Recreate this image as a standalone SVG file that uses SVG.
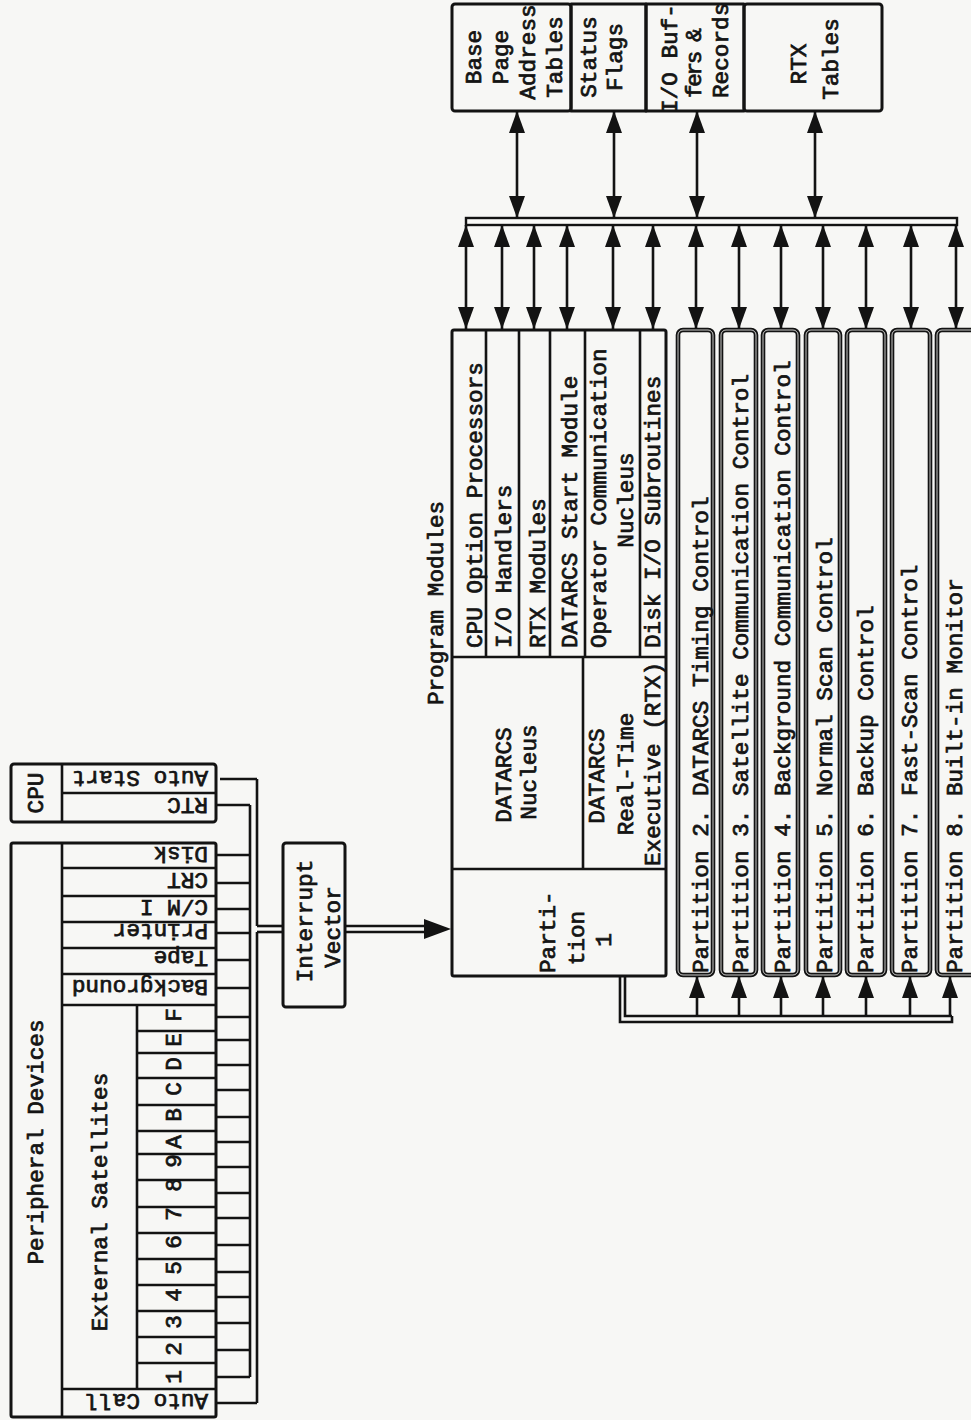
<svg xmlns="http://www.w3.org/2000/svg" width="971" height="1420" viewBox="0 0 971 1420">
<style>
.t{font-family:"Liberation Mono","DejaVu Sans Mono",monospace;font-size:22.7px;fill:#141414;stroke:#141414;stroke-width:0.75}
.m{text-anchor:middle}
.box{fill:none;stroke:#131313;stroke-width:3;stroke-linejoin:round}
.pbox{fill:none;stroke:#131313;stroke-width:4.6}
.pin{fill:none;stroke:#f7f7f5;stroke-width:0.8}
.ln{fill:none;stroke:#131313;stroke-width:2.6}
.arr2{fill:none;stroke:#131313;stroke-width:2.6;marker-start:url(#ah);marker-end:url(#ah)}
.arr1{fill:none;stroke:#131313;stroke-width:2.6;marker-end:url(#ah)}
</style>
<defs>
<marker id="ah" markerUnits="userSpaceOnUse" markerWidth="22" markerHeight="16" refX="22" refY="8" orient="auto-start-reverse" viewBox="0 0 22 16">
<path d="M0,0 L22,8 L0,16 z" fill="#131313"/>
</marker>
</defs>
<rect x="0" y="0" width="971" height="1420" fill="#f7f7f5"/>

<!-- Memory tables (top) -->
<g id="base-page-address-tables">
<rect class="box" x="452" y="4" width="119" height="107" rx="3"/>
<text class="t m" transform="translate(481,57) rotate(-90)">Base</text>
<text class="t m" transform="translate(508,57) rotate(-90)">Page</text>
<text class="t m" transform="translate(535,52) rotate(-90)">Address</text>
<text class="t m" transform="translate(562,57) rotate(-90)">Tables</text>
</g>
<g id="status-flags">
<rect class="box" x="571" y="4" width="75" height="107"/>
<text class="t m" transform="translate(596,57) rotate(-90)">Status</text>
<text class="t m" transform="translate(622,57) rotate(-90)">Flags</text>
</g>
<g id="io-buffers-records">
<rect class="box" x="646" y="4" width="98" height="107"/>
<text class="t" transform="translate(677,113) rotate(-90)">I/O Buf-</text>
<text class="t" transform="translate(701,98) rotate(-90)" textLength="70" lengthAdjust="spacing">fers &amp;</text>
<text class="t" transform="translate(728,98) rotate(-90)">Records</text>
</g>
<g id="rtx-tables">
<rect class="box" x="744" y="4" width="138" height="107" rx="3"/>
<text class="t m" transform="translate(806,64) rotate(-90)">RTX</text>
<text class="t m" transform="translate(838,59) rotate(-90)">Tables</text>
</g>

<!-- Program modules -->
<g id="program-modules-label">
<text class="t m" transform="translate(443,603) rotate(-90)">Program Modules</text>
</g>
<g id="program-modules">
<rect class="box" x="452" y="330" width="214" height="646" rx="2"/>
<line class="ln" x1="452" y1="657" x2="666" y2="657"/>
<line class="ln" x1="452" y1="869" x2="666" y2="869"/>
</g>
<g id="cpu-option-processors">
<text class="t" transform="translate(482,648) rotate(-90)">CPU Option Processors</text>
</g>
<g id="io-handlers">
<line class="ln" x1="486" y1="330" x2="486" y2="657"/>
<text class="t" transform="translate(511,648) rotate(-90)">I/O Handlers</text>
</g>
<g id="rtx-modules">
<line class="ln" x1="519" y1="330" x2="519" y2="657"/>
<text class="t" transform="translate(545,648) rotate(-90)">RTX Modules</text>
</g>
<g id="datarcs-start-module">
<line class="ln" x1="550" y1="330" x2="550" y2="657"/>
<text class="t" transform="translate(577,648) rotate(-90)">DATARCS Start Module</text>
</g>
<g id="operator-communication-nucleus">
<line class="ln" x1="585" y1="330" x2="585" y2="657"/>
<text class="t" transform="translate(606,648) rotate(-90)">Operator Communication</text>
<text class="t m" transform="translate(633,500) rotate(-90)">Nucleus</text>
</g>
<g id="disk-io-subroutines">
<line class="ln" x1="640" y1="330" x2="640" y2="657"/>
<text class="t" transform="translate(660,648) rotate(-90)">Disk I/O Subroutines</text>
</g>
<g id="datarcs-nucleus">
<text class="t m" transform="translate(511,775) rotate(-90)">DATARCS</text>
<text class="t m" transform="translate(536,772) rotate(-90)">Nucleus</text>
</g>
<g id="datarcs-rtx">
<line class="ln" x1="583" y1="657" x2="583" y2="869"/>
<text class="t m" transform="translate(604,776) rotate(-90)">DATARCS</text>
<text class="t m" transform="translate(633,774) rotate(-90)">Real-Time</text>
<text class="t" transform="translate(660,866) rotate(-90)">Executive (RTX)</text>
</g>
<g id="partition-1">
<text class="t" transform="translate(555,973) rotate(-90)">Parti-</text>
<text class="t m" transform="translate(584,938) rotate(-90)">tion</text>
<text class="t m" transform="translate(611,940) rotate(-90)">1</text>
</g>

<!-- Partitions 2-8 -->
<g id="partition-2">
<rect class="pbox" x="678" y="330" width="35" height="645" rx="5"/><rect class="pin" x="678" y="330" width="35" height="645" rx="5"/>
<text class="t" transform="translate(708,973) rotate(-90)">Partition 2. DATARCS Timing Control</text>
</g>
<g id="partition-3">
<rect class="pbox" x="721" y="330" width="35" height="645" rx="5"/><rect class="pin" x="721" y="330" width="35" height="645" rx="5"/>
<text class="t" transform="translate(748,973) rotate(-90)">Partition 3. Satellite Communication Control</text>
</g>
<g id="partition-4">
<rect class="pbox" x="763" y="330" width="35" height="645" rx="5"/><rect class="pin" x="763" y="330" width="35" height="645" rx="5"/>
<text class="t" transform="translate(790,973) rotate(-90)">Partition 4. Background Communication Control</text>
</g>
<g id="partition-5">
<rect class="pbox" x="806" y="330" width="34" height="645" rx="5"/><rect class="pin" x="806" y="330" width="34" height="645" rx="5"/>
<text class="t" transform="translate(832,973) rotate(-90)">Partition 5. Normal Scan Control</text>
</g>
<g id="partition-6">
<rect class="pbox" x="847" y="330" width="38" height="645" rx="5"/><rect class="pin" x="847" y="330" width="38" height="645" rx="5"/>
<text class="t" transform="translate(873,973) rotate(-90)">Partition 6. Backup Control</text>
</g>
<g id="partition-7">
<rect class="pbox" x="892" y="330" width="38" height="645" rx="5"/><rect class="pin" x="892" y="330" width="38" height="645" rx="5"/>
<text class="t" transform="translate(917,973) rotate(-90)">Partition 7. Fast-Scan Control</text>
</g>
<g id="partition-8">
<rect class="pbox" x="937" y="330" width="42" height="645" rx="5"/><rect class="pin" x="937" y="330" width="42" height="645" rx="5"/>
<text class="t" transform="translate(962,973) rotate(-90)">Partition 8. Built-in Monitor</text>
</g>

<!-- CPU -->
<g id="cpu">
<rect class="box" x="11" y="764" width="205" height="58" rx="3"/>
<line class="ln" x1="62" y1="764" x2="62" y2="822"/>
<line class="ln" x1="62" y1="793" x2="216" y2="793"/>
<text class="t m" transform="translate(43,793) rotate(-90)">CPU</text>
<text class="t" transform="translate(208,771) rotate(180)">Auto Start</text>
<text class="t" transform="translate(208,798) rotate(180)">RTC</text>
</g>

<!-- Peripheral devices -->
<g id="peripheral-devices">
<rect class="box" x="11" y="843" width="205" height="574" rx="2"/>
<line class="ln" x1="62" y1="843" x2="62" y2="1417"/>
<text class="t m" transform="translate(43,1142) rotate(-90)">Peripheral Devices</text>
</g>
<g id="device-disk"><line class="ln" x1="62" y1="868" x2="216" y2="868"/><text class="t" transform="translate(208,847) rotate(180)">Disk</text></g>
<g id="device-crt"><line class="ln" x1="62" y1="896" x2="216" y2="896"/><text class="t" transform="translate(208,873) rotate(180)">CRT</text></g>
<g id="device-cmi"><line class="ln" x1="62" y1="922" x2="216" y2="922"/><text class="t" transform="translate(208,900) rotate(180)">C/M I</text></g>
<g id="device-printer"><line class="ln" x1="62" y1="948" x2="216" y2="948"/><text class="t" transform="translate(208,924) rotate(180)">Printer</text></g>
<g id="device-tape"><line class="ln" x1="62" y1="974" x2="216" y2="974"/><text class="t" transform="translate(208,951) rotate(180)">Tape</text></g>
<g id="device-background"><line class="ln" x1="62" y1="1005" x2="216" y2="1005"/><text class="t" transform="translate(208,980) rotate(180)">Background</text></g>
<g id="external-satellites">
<line class="ln" x1="137" y1="1005" x2="137" y2="1389"/>
<text class="t m" transform="translate(107,1202) rotate(-90)">External Satellites</text>
<line class="ln" x1="137" y1="1031" x2="216" y2="1031"/>
<line class="ln" x1="137" y1="1053" x2="216" y2="1053"/>
<line class="ln" x1="137" y1="1078" x2="216" y2="1078"/>
<line class="ln" x1="137" y1="1105" x2="216" y2="1105"/>
<line class="ln" x1="137" y1="1131" x2="216" y2="1131"/>
<line class="ln" x1="137" y1="1154" x2="216" y2="1154"/>
<line class="ln" x1="137" y1="1180" x2="216" y2="1180"/>
<line class="ln" x1="137" y1="1207" x2="216" y2="1207"/>
<line class="ln" x1="137" y1="1233" x2="216" y2="1233"/>
<line class="ln" x1="137" y1="1259" x2="216" y2="1259"/>
<line class="ln" x1="137" y1="1285" x2="216" y2="1285"/>
<line class="ln" x1="137" y1="1311" x2="216" y2="1311"/>
<line class="ln" x1="137" y1="1337" x2="216" y2="1337"/>
<line class="ln" x1="137" y1="1363" x2="216" y2="1363"/>
<text class="t m" transform="translate(181,1015) rotate(-90)">F</text>
<text class="t m" transform="translate(181,1040) rotate(-90)">E</text>
<text class="t m" transform="translate(181,1064) rotate(-90)">D</text>
<text class="t m" transform="translate(181,1089) rotate(-90)">C</text>
<text class="t m" transform="translate(181,1115) rotate(-90)">B</text>
<text class="t m" transform="translate(181,1142) rotate(-90)">A</text>
<text class="t m" transform="translate(181,1161) rotate(-90)">9</text>
<text class="t m" transform="translate(181,1185) rotate(-90)">8</text>
<text class="t m" transform="translate(181,1214) rotate(-90)">7</text>
<text class="t m" transform="translate(181,1242) rotate(-90)">6</text>
<text class="t m" transform="translate(181,1268) rotate(-90)">5</text>
<text class="t m" transform="translate(181,1295) rotate(-90)">4</text>
<text class="t m" transform="translate(181,1322) rotate(-90)">3</text>
<text class="t m" transform="translate(181,1349) rotate(-90)">2</text>
<text class="t m" transform="translate(181,1377) rotate(-90)">1</text>
</g>
<g id="device-auto-call"><line class="ln" x1="62" y1="1389" x2="216" y2="1389"/><text class="t" transform="translate(208,1394) rotate(180)">Auto Call</text></g>

<!-- Interrupt vector -->
<g id="interrupt-vector">
<rect class="box" x="283" y="843" width="62" height="164" rx="3"/>
<text class="t m" transform="translate(312,921) rotate(-90)">Interrupt</text>
<text class="t m" transform="translate(340,927) rotate(-90)">Vector</text>
</g>

<!-- Connectors -->
<g id="connectors">
<!-- memory bus -->
<rect x="466" y="218" width="491" height="7" fill="#fafaf8" stroke="#131313" stroke-width="2.4"/>
<line class="arr2" x1="517" y1="111" x2="517" y2="218"/>
<line class="arr2" x1="614" y1="111" x2="614" y2="218"/>
<line class="arr2" x1="697" y1="111" x2="697" y2="218"/>
<line class="arr2" x1="815" y1="111" x2="815" y2="218"/>
<line class="arr2" x1="466" y1="225" x2="466" y2="329"/>
<line class="arr2" x1="502" y1="225" x2="502" y2="329"/>
<line class="arr2" x1="534" y1="225" x2="534" y2="329"/>
<line class="arr2" x1="567" y1="225" x2="567" y2="329"/>
<line class="arr2" x1="613" y1="225" x2="613" y2="329"/>
<line class="arr2" x1="653" y1="225" x2="653" y2="329"/>
<line class="arr2" x1="696" y1="225" x2="696" y2="329"/>
<line class="arr2" x1="739" y1="225" x2="739" y2="329"/>
<line class="arr2" x1="781" y1="225" x2="781" y2="329"/>
<line class="arr2" x1="823" y1="225" x2="823" y2="329"/>
<line class="arr2" x1="866" y1="225" x2="866" y2="329"/>
<line class="arr2" x1="911" y1="225" x2="911" y2="329"/>
<line class="arr2" x1="956" y1="225" x2="956" y2="329"/>
<!-- partition 1 to partitions 2-8 -->
<path class="ln" d="M620,976 V1022 H952 V1016"/>
<path class="ln" d="M625,976 V1016 H952"/>
<line class="arr1" x1="697" y1="1016" x2="697" y2="976"/>
<line class="arr1" x1="739" y1="1016" x2="739" y2="976"/>
<line class="arr1" x1="781" y1="1016" x2="781" y2="976"/>
<line class="arr1" x1="823" y1="1016" x2="823" y2="976"/>
<line class="arr1" x1="866" y1="1016" x2="866" y2="976"/>
<line class="arr1" x1="910" y1="1016" x2="910" y2="976"/>
<line class="arr1" x1="950" y1="1016" x2="950" y2="976"/>
<!-- interrupt bus -->
<line class="ln" x1="250" y1="805" x2="250" y2="1377"/>
<line class="ln" x1="257" y1="779" x2="257" y2="926"/>
<line class="ln" x1="257" y1="932" x2="257" y2="1403"/>
<line class="ln" x1="220" y1="779" x2="257" y2="779"/>
<line class="ln" x1="216" y1="1403" x2="257" y2="1403"/>
<line class="ln" x1="216" y1="805" x2="250" y2="805"/>
<line class="ln" x1="216" y1="855" x2="250" y2="855"/>
<line class="ln" x1="216" y1="883" x2="250" y2="883"/>
<line class="ln" x1="216" y1="909" x2="250" y2="909"/>
<line class="ln" x1="216" y1="933" x2="250" y2="933"/>
<line class="ln" x1="216" y1="960" x2="250" y2="960"/>
<line class="ln" x1="216" y1="988" x2="250" y2="988"/>
<line class="ln" x1="216" y1="1017" x2="250" y2="1017"/>
<line class="ln" x1="216" y1="1040" x2="250" y2="1040"/>
<line class="ln" x1="216" y1="1065" x2="250" y2="1065"/>
<line class="ln" x1="216" y1="1090" x2="250" y2="1090"/>
<line class="ln" x1="216" y1="1117" x2="250" y2="1117"/>
<line class="ln" x1="216" y1="1142" x2="250" y2="1142"/>
<line class="ln" x1="216" y1="1167" x2="250" y2="1167"/>
<line class="ln" x1="216" y1="1193" x2="250" y2="1193"/>
<line class="ln" x1="216" y1="1218" x2="250" y2="1218"/>
<line class="ln" x1="216" y1="1245" x2="250" y2="1245"/>
<line class="ln" x1="216" y1="1272" x2="250" y2="1272"/>
<line class="ln" x1="216" y1="1297" x2="250" y2="1297"/>
<line class="ln" x1="216" y1="1323" x2="250" y2="1323"/>
<line class="ln" x1="216" y1="1350" x2="250" y2="1350"/>
<line class="ln" x1="216" y1="1377" x2="250" y2="1377"/>
<line class="ln" x1="257" y1="926" x2="283" y2="926"/>
<line class="ln" x1="257" y1="932" x2="283" y2="932"/>
<!-- interrupt vector to partition 1 -->
<line class="ln" x1="345" y1="926" x2="428" y2="926"/>
<line class="ln" x1="345" y1="932" x2="428" y2="932"/>
<path d="M424,919 L451,929 L424,939 z" fill="#131313"/>
</g>
</svg>
